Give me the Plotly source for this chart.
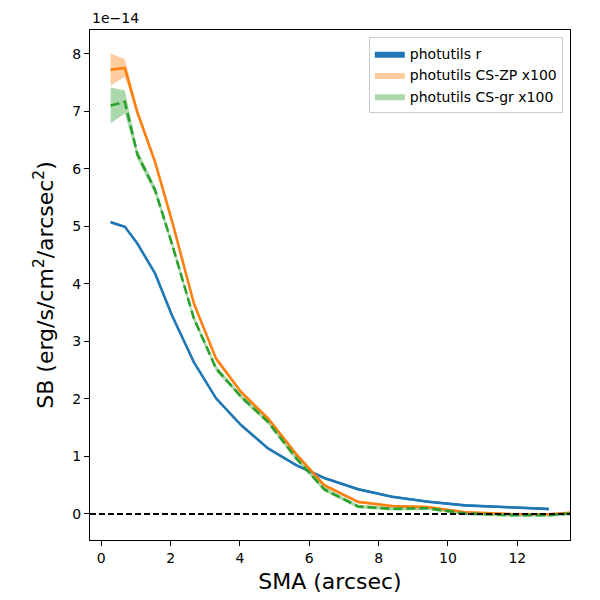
import plotly.graph_objects as go

# surface brightness profiles, SB in units of 1e-14 erg/s/cm2/arcsec2
sma = [0.27, 0.68, 1.04, 1.55, 2.04, 2.67, 3.31, 4.03, 4.81, 5.62, 6.43, 7.41, 8.38, 9.42, 10.49, 11.79, 12.91, 14.2]

sb_r = [5.07, 4.99, 4.70, 4.18, 3.45, 2.64, 2.01, 1.545, 1.14, 0.85, 0.625, 0.43, 0.30, 0.214, 0.15, 0.116, 0.087]
sb_r_err = [0.02] * len(sb_r)

sb_zp = [7.72, 7.75, 6.98, 6.12, 5.09, 3.66, 2.70, 2.12, 1.66, 1.04, 0.50, 0.21, 0.14, 0.12, 0.03, 0.0, -0.005, 0.05]
sb_zp_err = [0.28, 0.15, 0.06, 0.05, 0.05, 0.04, 0.04, 0.03, 0.03, 0.03, 0.03, 0.02, 0.02, 0.02, 0.02, 0.02, 0.02, 0.02]

sb_gr = [7.10, 7.16, 6.25, 5.63, 4.69, 3.40, 2.53, 2.04, 1.60, 0.97, 0.43, 0.13, 0.09, 0.10, 0.01, -0.02, -0.02, 0.04]
sb_gr_err = [0.31, 0.2, 0.08, 0.07, 0.06, 0.05, 0.05, 0.04, 0.04, 0.04, 0.04, 0.03, 0.03, 0.03, 0.03, 0.03, 0.03, 0.03]

names = ["photutils r", "photutils CS-ZP x100", "photutils CS-gr x100"]

fig = go.Figure()

def band(x, y, err, fillcol, name):
    lo = [v - e for v, e in zip(y, err)]
    hi = [v + e for v, e in zip(y, err)]
    fig.add_trace(go.Scatter(x=x + x[::-1], y=hi + lo[::-1], fill="toself",
                             fillcolor=fillcol, line=dict(width=0), mode="lines",
                             name=name, hoverinfo="skip"))

x_r = sma[:len(sb_r)]
band(x_r, sb_r, sb_r_err, "#1f77b4", names[0])
band(sma, sb_zp, sb_zp_err, "rgba(255,127,14,0.4)", names[1])
band(sma, sb_gr, sb_gr_err, "rgba(44,160,44,0.4)", names[2])

fig.add_trace(go.Scatter(x=x_r, y=sb_r, mode="lines", line=dict(color="#1f77b4", width=2.6), showlegend=False))
fig.add_trace(go.Scatter(x=sma, y=sb_zp, mode="lines", line=dict(color="#ff7f0e", width=2.6), showlegend=False))
fig.add_trace(go.Scatter(x=sma, y=sb_gr, mode="lines", line=dict(color="#2ca02c", width=2.6, dash="9px,4px"), showlegend=False))

fig.add_hline(y=0, line=dict(color="black", width=1.8, dash="6px,3px"))

# page has an 8px body margin, so the figure is a bit smaller than the window
fig.update_layout(
    width=592, height=592,
    margin=dict(l=82, r=30, t=22, b=60),
    plot_bgcolor="white", paper_bgcolor="white",
    font=dict(family="DejaVu Sans", size=14, color="black"),
    legend=dict(x=0.985, y=0.986, xanchor="right", yanchor="top",
                bordercolor="#cccccc", borderwidth=1, bgcolor="rgba(255,255,255,0.8)",
                font=dict(size=14), tracegroupgap=0),
)
fig.update_xaxes(title=dict(text="SMA (arcsec)", font=dict(size=22), standoff=8),
                 range=[-0.326, 13.52], tickvals=[0, 2, 4, 6, 8, 10, 12],
                 showline=True, linecolor="black", linewidth=1.2, mirror=True,
                 ticks="outside", ticklen=5, tickcolor="black",
                 showgrid=False, zeroline=False)
fig.update_yaxes(title=dict(text="SB (erg/s/cm<sup>2</sup>/arcsec<sup>2</sup>)", font=dict(size=22), standoff=12),
                 range=[-0.452, 8.41], tickvals=[0, 1, 2, 3, 4, 5, 6, 7, 8],
                 showline=True, linecolor="black", linewidth=1.2, mirror=True,
                 ticks="outside", ticklen=5, tickcolor="black",
                 showgrid=False, zeroline=False)
fig.add_annotation(text="1e\u221214", xref="paper", yref="paper", x=0, y=1.0,
                   xanchor="left", yanchor="bottom", showarrow=False, yshift=2,
                   font=dict(size=14))

fig.write_html("out.html")
